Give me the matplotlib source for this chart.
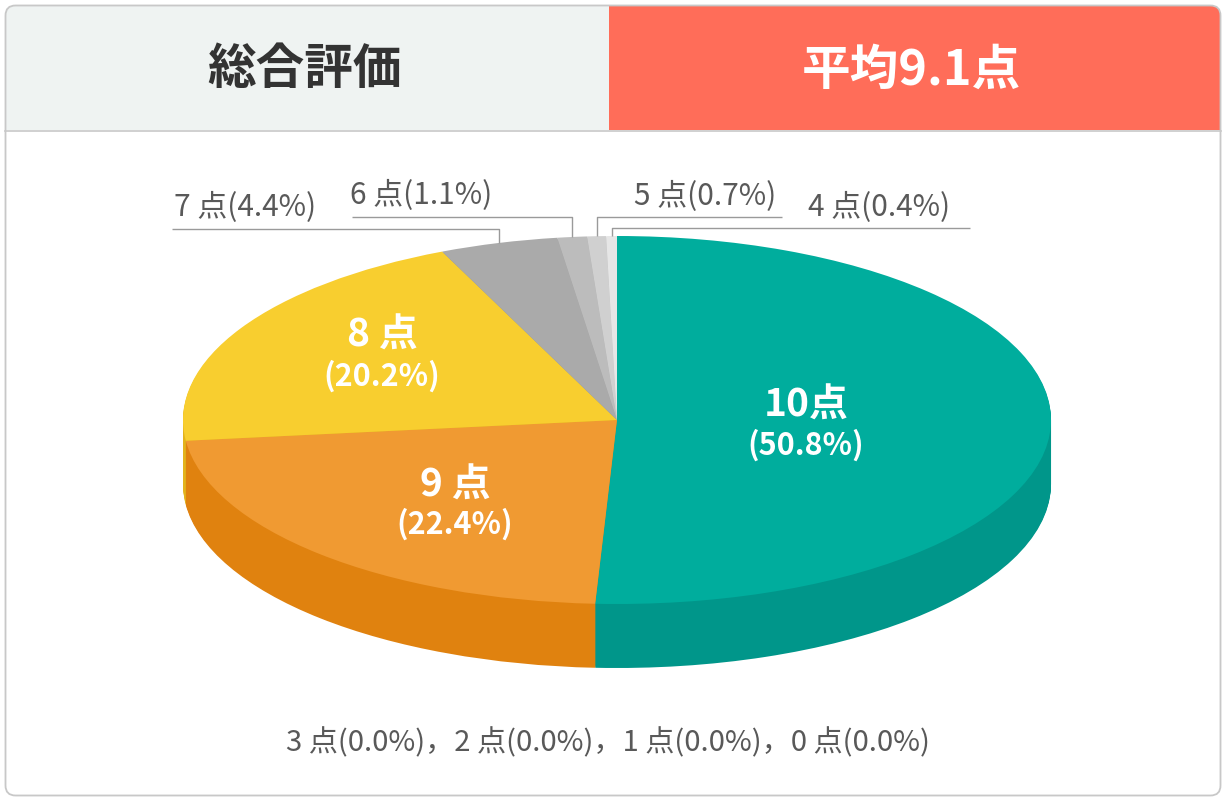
import numpy as np
import matplotlib
matplotlib.use("Agg")
import matplotlib.pyplot as plt
from matplotlib.patches import FancyBboxPatch, Rectangle

plt.rcParams['font.family'] = ['Noto Sans CJK JP', 'DejaVu Sans']

# ---- data ----
categories = ["10点", "9 点", "8 点", "7 点", "6 点", "5 点", "4 点"]
values = [50.8, 22.4, 20.2, 4.4, 1.1, 0.7, 0.4]
top_colors = ["#00AD9D", "#F09A32", "#F8CE2F", "#AAAAAA", "#BCBCBC", "#D0D0D0", "#E6E6E6"]
side_colors = ["#00968A", "#E0820F", "#E3B31C", "#8F8F8F", "#A0A0A0", "#B0B0B0", "#C5C5C5"]
zero_labels = ["3 点(0.0%)", "2 点(0.0%)", "1 点(0.0%)", "0 点(0.0%)"]
title_left = "総合評価"
title_right = "平均9.1点"

W, H = 1226, 801
fig = plt.figure(figsize=(W / 100, H / 100), dpi=100)

# overlay axes in pixel coordinates
ov = fig.add_axes([0, 0, 1, 1])
ov.set_xlim(0, W)
ov.set_ylim(H, 0)
ov.axis('off')

outer = FancyBboxPatch((5.5, 5.5), 1215, 790, boxstyle='round,pad=0,rounding_size=10',
                       fc='white', ec='none', zorder=0)
ov.add_patch(outer)
r1 = Rectangle((5, 5), 604, 125, fc='#EFF3F2', ec='none', zorder=1)
r2 = Rectangle((609, 5), 613, 125, fc='#FF6D59', ec='none', zorder=1)
ov.add_patch(r1)
ov.add_patch(r2)
r1.set_clip_path(outer)
r2.set_clip_path(outer)
ov.plot([5, 1221], [130.5, 130.5], color='#C8C8C8', lw=1.2, zorder=2)
ov.add_patch(FancyBboxPatch((5.5, 5.5), 1215, 790, boxstyle='round,pad=0,rounding_size=10',
                            fc='none', ec='#C8C8C8', lw=1.3, zorder=3))

ov.text(305, 70, title_left, fontsize=35, fontweight='bold', color='#333333',
        ha='center', va='center', zorder=4)
ov.text(911, 70, title_right, fontsize=35, fontweight='bold', color='white',
        ha='center', va='center', zorder=4)

# ---- pie axes ----
cx, cy, rx, ry, depth_px = 617, 420, 434, 184, 64
pa = fig.add_axes([0, 0, 1, 1], zorder=5)
pa.patch.set_visible(False)

N = 64
depth = depth_px / ry
for k in range(N, 0, -1):
    pa.pie(values, colors=side_colors, startangle=90, counterclock=False,
           center=(0, -depth * k / N), radius=1, wedgeprops=dict(linewidth=0))
pa.pie(values, colors=top_colors, startangle=90, counterclock=False,
       center=(0, 0), radius=1, wedgeprops=dict(linewidth=0))
pa.set_aspect('auto')
pa.set_xlim(-cx / rx, (W - cx) / rx)
pa.set_ylim((cy - H) / ry, cy / ry)
pa.axis('off')

def py2d(py):
    return (cy - py) / ry

def px2d(px):
    return (px - cx) / rx

# leader lines for small slices
cum = np.cumsum([0] + values[:-1])
mids = [(c + v / 2) / sum(values) * 2 * np.pi for c, v in zip(cum, values)]
# (index, line y px, horizontal end x px, label x px, label y px)
leaders = [
    (3, 229, 172, 245, 207),
    (4, 217, 352, 421, 195),
    (5, 217, 782, 705, 196),
    (6, 228, 970, 879, 207),
]
for idx, ly, ex, tx, ty in leaders:
    th = mids[idx]
    xs = np.sin(th)
    ys = np.cos(th)
    pa.plot([xs, xs, px2d(ex)], [ys, py2d(ly), py2d(ly)], color='#9A9A9A', lw=1.0,
            solid_capstyle='butt')
    ov.text(tx, ty, f"{categories[idx]}({values[idx]:.1f}%)", fontsize=21.5,
            color='#595959', ha='center', va='center')

# in-pie labels
inside = [(0, 806, 405, 445), (1, 455, 485, 524), (2, 382, 335, 376)]
for idx, tx, ty1, ty2 in inside:
    fig.text(tx / W, 1 - ty1 / H, categories[idx], fontsize=28, fontweight='bold',
             color='white', ha='center', va='center', zorder=10)
    fig.text(tx / W, 1 - ty2 / H, f"({values[idx]:.1f}%)", fontsize=22, fontweight='bold',
             color='white', ha='center', va='center', zorder=10)

ov.text(608, 743, "，".join(zero_labels), fontsize=21, color='#595959',
        ha='center', va='center')

fig.savefig("out.png", dpi=100)
